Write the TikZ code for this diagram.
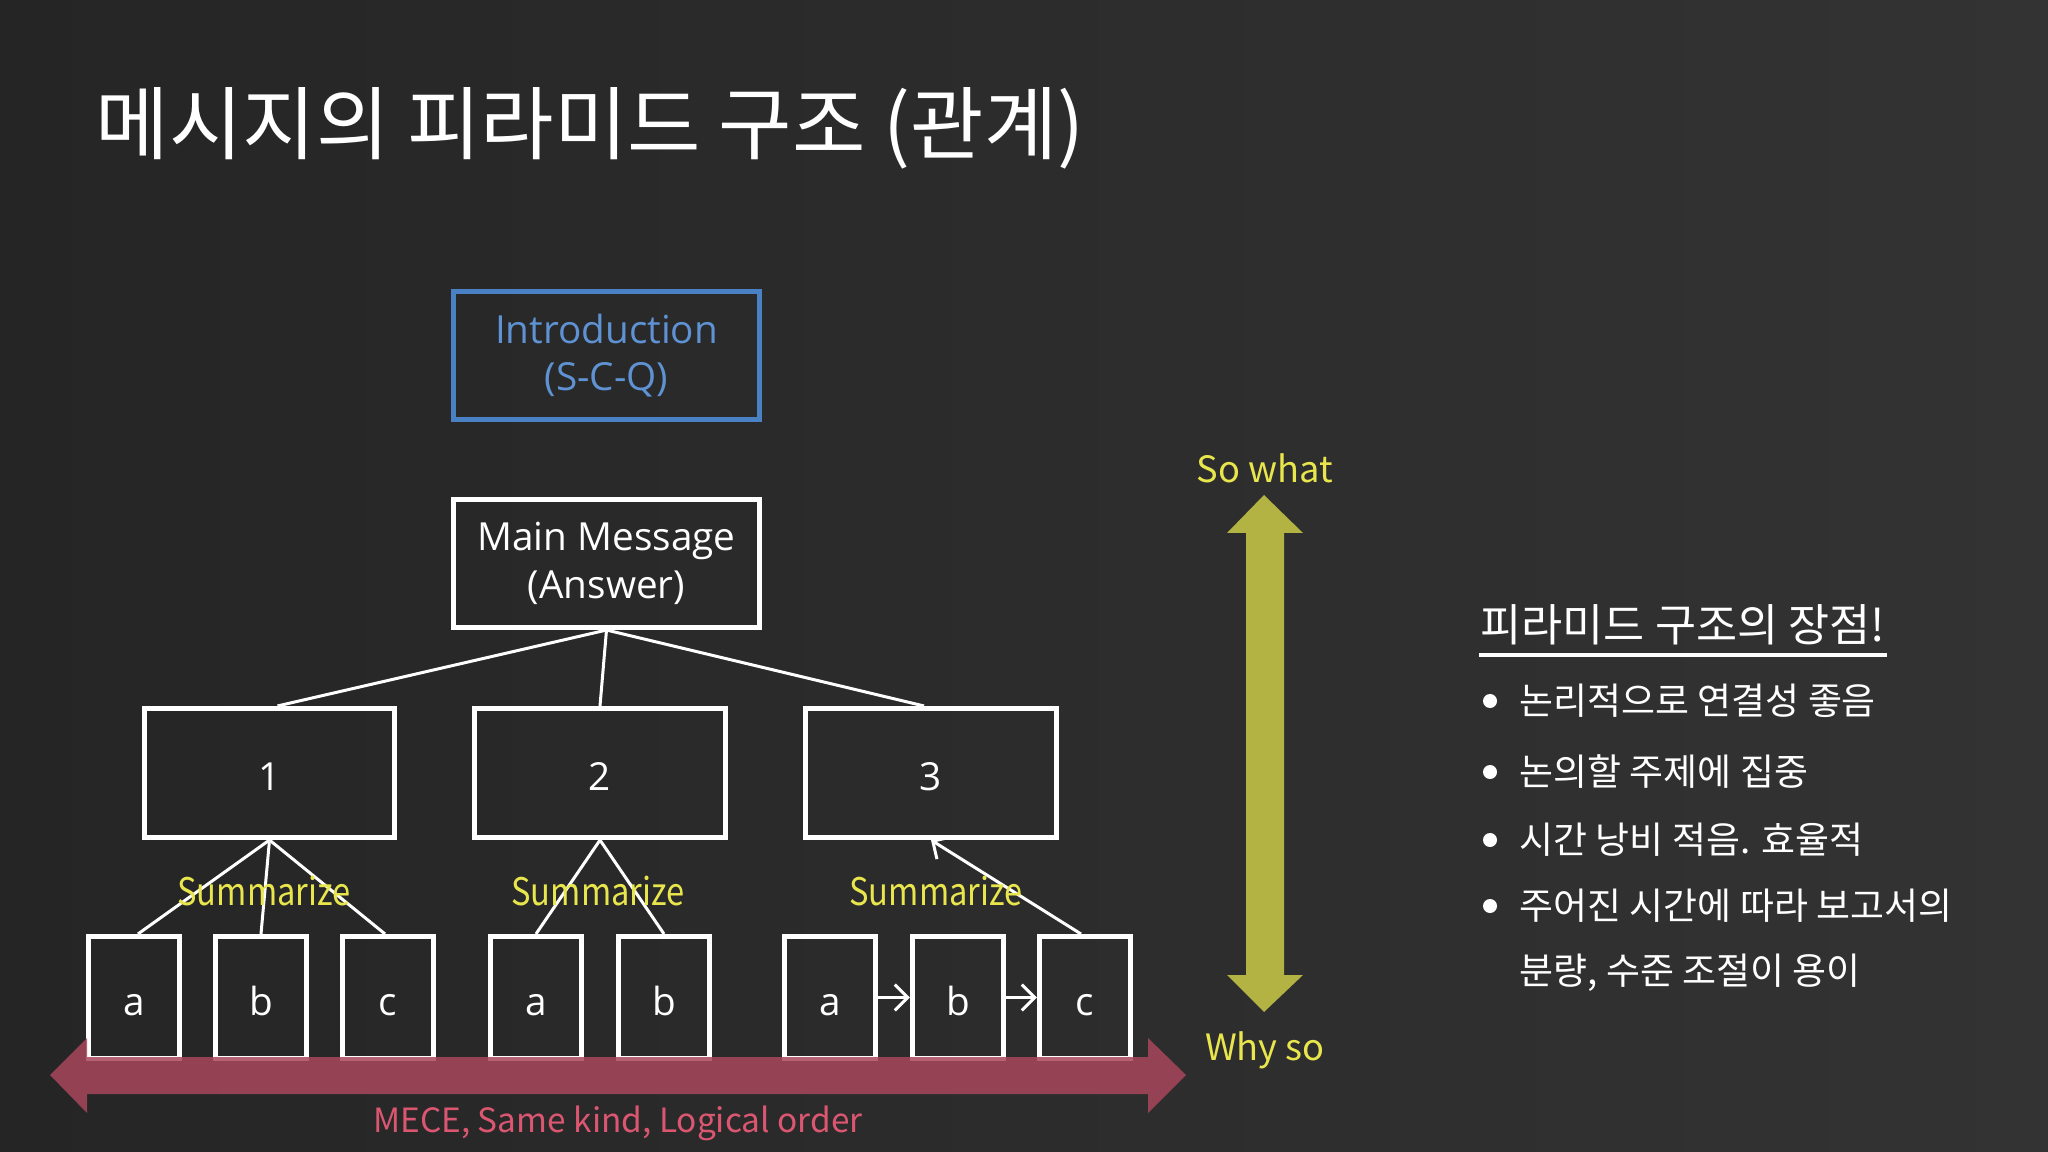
\documentclass[tikz,border=0pt]{standalone}
\usepackage{fontspec}
\setmainfont{Open Sans}
\newfontfamily\kr{Noto Sans CJK KR}
\newfontfamily\krn[FakeStretch=0.86]{Noto Sans CJK KR}
\usetikzlibrary{arrows.meta}
\definecolor{bgL}{HTML}{252525}
\definecolor{bgR}{HTML}{333333}
\definecolor{introblue}{HTML}{4A80C4}
\definecolor{introtext}{HTML}{5E92D2}
\definecolor{chalkyellow}{HTML}{E8E64C}
\definecolor{olivearrow}{HTML}{B3B344}
\definecolor{pinkband}{HTML}{A8475C}
\definecolor{pinktext}{HTML}{DB5670}
\begin{document}
\begin{tikzpicture}[x=0.01cm,y=-0.01cm,
  box/.style={draw=white, line width=0.05cm, inner sep=0pt, text=white, align=center,
    font=\fontsize{11}{13.5}\selectfont},
  topbox/.style={box, minimum width=3.06cm, minimum height=1.28cm},
  midbox/.style={box, minimum width=2.50cm, minimum height=1.29cm, text height=10pt, text depth=0pt},
  leaf/.style={box, minimum width=0.91cm, minimum height=1.22cm, text height=10pt, text depth=0pt},
  conn/.style={draw=white, line width=0.03cm},
  barb/.style={-{Straight Barb[length=0.13cm,width=0.26cm]}},
  hand/.style={text=chalkyellow, font=\krn\fontsize{10.8}{12}\selectfont},
  kor/.style={text=white, anchor=west, inner sep=0pt, font=\kr\fontsize{10.5}{12}\selectfont},
  dot/.style={circle, fill=white, inner sep=0pt, minimum size=0.14cm}]
% background
\shade[left color=bgL, right color=bgR] (0,0) rectangle (2048,1152);
\useasboundingbox (0,0) rectangle (2048,1152);
% title
\node[anchor=west, inner sep=0pt, text=white, font=\kr\fontsize{22.7}{26}\selectfont] (title) at (95,128) {메시지의 피라미드 구조 (관계)};
% boxes
\node[topbox, draw=introblue, text=introtext] (intro) at (606.5,355.5) {Introduction\\(S-C-Q)};
\node[topbox] (main) at (606.5,563.5) {Main Message\\(Answer)};
\node[midbox] (n1) at (269.5,773) {1};
\node[midbox] (n2) at (600,773) {2};
\node[midbox] (n3) at (931,773) {3};
\node[leaf] (a1) at (134,997.5) {a};
\node[leaf] (b1) at (261,997.5) {b};
\node[leaf] (c1) at (388,997.5) {c};
\node[leaf] (a2) at (536,997.5) {a};
\node[leaf] (b2) at (664,997.5) {b};
\node[leaf] (a3) at (830,997.5) {a};
\node[leaf] (b3) at (958,997.5) {b};
\node[leaf] (c3) at (1085,997.5) {c};
% connectors
\draw[conn] (main.south) -- ([xshift=0.08cm]n1.north);
\draw[conn] (main.south) -- (n2.north);
\draw[conn] (main.south) -- ([xshift=-0.07cm]n3.north);
\draw[conn] (n1.south) -- ([xshift=0.04cm]a1.north);
\draw[conn] (n1.south) -- (b1.north);
\draw[conn] (n1.south) -- ([xshift=-0.03cm]c1.north);
\draw[conn] (n2.south) -- (a2.north);
\draw[conn] (n2.south) -- (b2.north);
\draw[conn, barb] ([xshift=-0.04cm]c3.north) -- (n3.south);
\draw[conn, barb] (a3.east) -- (b3.west);
\draw[conn, barb] (b3.east) -- (c3.west);
% summarize labels
\node[hand] (s1) at (264,891) {Summarize};
\node[hand] (s2) at (598,891) {Summarize};
\node[hand] (s3) at (936,891) {Summarize};
% pink band
\fill[pinkband, fill opacity=0.85] (50,1075) -- (87,1038) -- (87,1057) -- (1148,1057) -- (1148,1038)
  -- (1186,1075) -- (1148,1113) -- (1148,1094) -- (87,1094) -- (87,1113) -- cycle;
\node[text=pinktext, font=\kr\fontsize{9.5}{11}\selectfont] (mece) at (618,1123) {MECE, Same kind, Logical order};
% vertical arrow
\fill[olivearrow] (1264,495) -- (1303,533) -- (1284,533) -- (1284,975) -- (1303,975) -- (1264,1012)
  -- (1227,975) -- (1246,975) -- (1246,533) -- (1227,533) -- cycle;
\node[hand, font=\kr\fontsize{10.3}{12}\selectfont] (sowhat) at (1265,468) {So what};
\node[hand, font=\kr\fontsize{10.3}{12}\selectfont] (whyso) at (1265,1050) {Why so};
% right list
\node[anchor=west, inner sep=0pt, text=white, font=\kr\fontsize{12.7}{14}\selectfont] (head) at (1480,625) {피라미드 구조의 장점!};
\draw[white, line width=0.04cm] (1479,655) -- (1887,655);
\node[dot] (d1) at (1490,701) {};
\node[dot] (d2) at (1490,772) {};
\node[dot] (d3) at (1490,840) {};
\node[dot] (d4) at (1490,906) {};
\node[kor] (t1) at (1519,701) {논리적으로 연결성 좋음};
\node[kor] (t2) at (1519,772) {논의할 주제에 집중};
\node[kor] (t3) at (1519,840) {시간 낭비 적음. 효율적};
\node[kor] (t4) at (1519,906) {주어진 시간에 따라 보고서의};
\node[kor] (t5) at (1519,973) {분량, 수준 조절이 용이};
\end{tikzpicture}
\end{document}
